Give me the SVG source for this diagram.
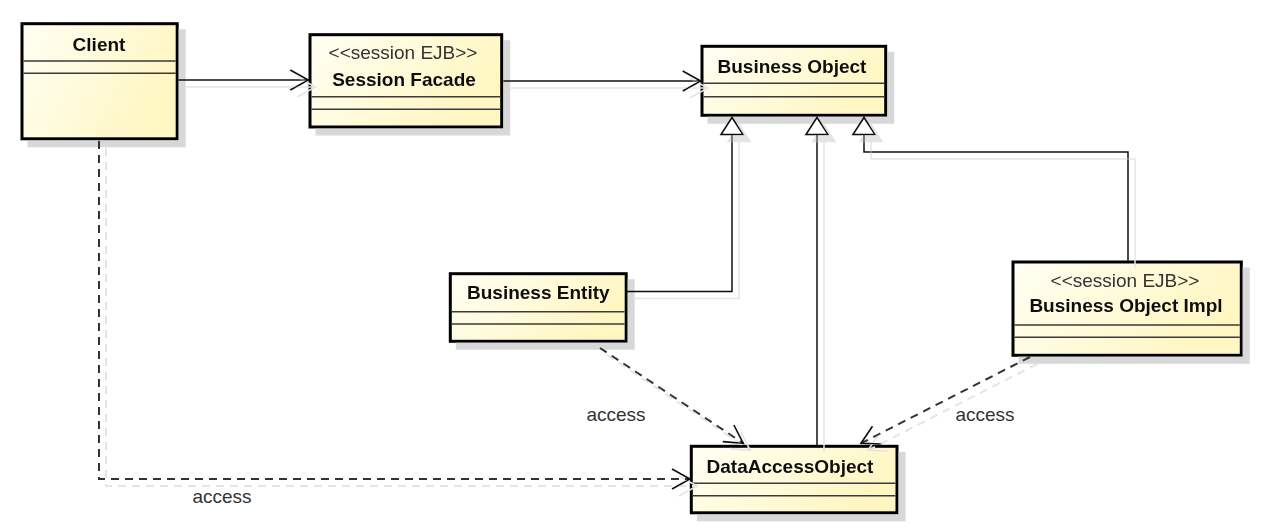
<svg xmlns="http://www.w3.org/2000/svg" width="1269" height="530" viewBox="0 0 1269 530">
<style>
.box{fill:url(#yel);stroke:#000;stroke-width:3}
.div{stroke:#3a3a3a;stroke-width:1.5}
.name{font-family:"Liberation Sans",Arial,sans-serif;font-size:19px;font-weight:bold;fill:#111;text-anchor:middle}
.st{font-family:"Liberation Sans",Arial,sans-serif;font-size:19px;fill:#333;text-anchor:middle}
.lbl{font-family:"Liberation Sans",Arial,sans-serif;font-size:19px;fill:#333;text-anchor:middle}
.assoc{fill:none;stroke:#111;stroke-width:1.5;marker-end:url(#open)}
.dep{fill:none;stroke:#333;stroke-width:2;stroke-dasharray:8,6;marker-end:url(#open)}
.gen{fill:none;stroke:#111;stroke-width:1.5;marker-end:url(#tri)}
</style>
<defs>
<linearGradient id="yel" x1="0" y1="0" x2="1" y2="0.4">
<stop offset="0" stop-color="#fffff4"/>
<stop offset="1" stop-color="#fff6c2"/>
</linearGradient>
<filter id="nsh" x="-10%" y="-10%" width="130%" height="140%">
<feOffset in="SourceAlpha" dx="7" dy="7" result="o"/>
<feFlood flood-color="#d8d8d8"/>
<feComposite in2="o" operator="in" result="s"/>
<feMerge><feMergeNode in="s"/><feMergeNode in="SourceGraphic"/></feMerge>
</filter>
<filter id="csh" filterUnits="userSpaceOnUse" x="0" y="0" width="1269" height="530">
<feOffset in="SourceAlpha" dx="7" dy="7" result="o"/>
<feFlood flood-color="#e4e4e4"/>
<feComposite in2="o" operator="in" result="s"/>
<feMerge><feMergeNode in="s"/><feMergeNode in="SourceGraphic"/></feMerge>
</filter>
<marker id="open" markerUnits="userSpaceOnUse" markerWidth="22" markerHeight="24" refX="18" refY="10" orient="auto" overflow="visible">
<path d="M0,0 L18,10 L0,20" fill="none" stroke="#111" stroke-width="1.6"/>
</marker>
<marker id="tri" markerUnits="userSpaceOnUse" markerWidth="22" markerHeight="26" refX="17" refY="11" orient="auto" overflow="visible">
<path d="M0,0 L17,11 L0,22 Z" fill="#fff" stroke="#111" stroke-width="1.5"/>
</marker>
</defs>

<g id="client" filter="url(#nsh)">
<rect class="box" x="22" y="23.7" width="155.2" height="115.1"/>
<line class="div" x1="23.5" y1="61" x2="175.7" y2="61"/>
<line class="div" x1="23.5" y1="73.3" x2="175.7" y2="73.3"/>
<text class="name" x="99" y="51">Client</text>
</g>

<g id="session-facade" filter="url(#nsh)">
<rect class="box" x="310" y="34.7" width="191.7" height="92.3"/>
<line class="div" x1="311.5" y1="96.7" x2="500.2" y2="96.7"/>
<line class="div" x1="311.5" y1="109.3" x2="500.2" y2="109.3"/>
<text class="st" x="403" y="59">&lt;&lt;session EJB&gt;&gt;</text>
<text class="name" x="404" y="86">Session Facade</text>
</g>

<g id="business-object" filter="url(#nsh)">
<rect class="box" x="702" y="46.3" width="183.7" height="69"/>
<line class="div" x1="703.5" y1="83.3" x2="884.2" y2="83.3"/>
<line class="div" x1="703.5" y1="96.7" x2="884.2" y2="96.7"/>
<text class="name" x="792" y="73.3">Business Object</text>
</g>

<g id="business-entity" filter="url(#nsh)">
<rect class="box" x="450.3" y="273.7" width="175.9" height="67.6"/>
<line class="div" x1="451.8" y1="311.7" x2="624.7" y2="311.7"/>
<line class="div" x1="451.8" y1="324" x2="624.7" y2="324"/>
<text class="name" x="538.3" y="299.3">Business Entity</text>
</g>

<g id="business-object-impl" filter="url(#nsh)">
<rect class="box" x="1013" y="262" width="228.3" height="93.3"/>
<line class="div" x1="1014.5" y1="325" x2="1239.8" y2="325"/>
<line class="div" x1="1014.5" y1="337.3" x2="1239.8" y2="337.3"/>
<text class="st" x="1125" y="287">&lt;&lt;session EJB&gt;&gt;</text>
<text class="name" x="1126" y="311.5">Business Object Impl</text>
</g>

<g id="data-access-object" filter="url(#nsh)">
<rect class="box" x="691.3" y="446.3" width="205.7" height="66.5"/>
<line class="div" x1="692.8" y1="483.3" x2="895.5" y2="483.3"/>
<line class="div" x1="692.8" y1="495.7" x2="895.5" y2="495.7"/>
<text class="name" x="790" y="473.3">DataAccessObject</text>
</g>

<g id="connectors" filter="url(#csh)">
<path class="assoc" d="M178.5,80 H308.3"/>
<path class="assoc" d="M503.3,81 H700.7"/>
<path class="gen" d="M626.2,291.5 H732 V117.5"/>
<path class="gen" d="M817,445 V117.5"/>
<path class="gen" d="M1128,260.7 V152 H864 V117.5"/>
<path class="dep" d="M600,348 L743.3,443.3"/>
<path class="dep" d="M1030,357 L861,443.3"/>
<path class="dep" d="M99,141 V479 H690"/>
</g>

<g id="labels">
<text class="lbl" x="616" y="421">access</text>
<text class="lbl" x="985" y="421">access</text>
<text class="lbl" x="222" y="503">access</text>
</g>
</svg>
